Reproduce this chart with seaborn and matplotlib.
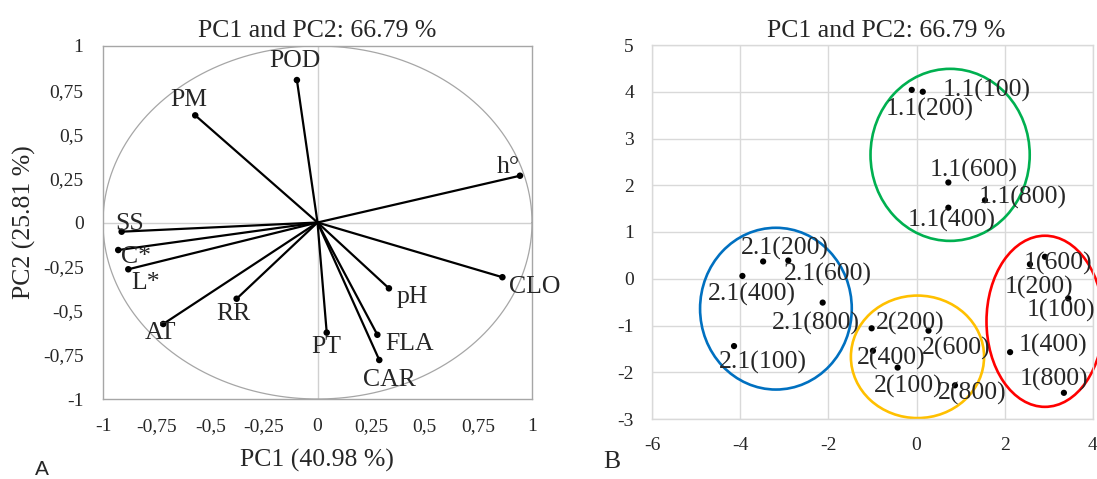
import matplotlib
matplotlib.use('Agg')
import matplotlib.pyplot as plt
from matplotlib.patches import Ellipse
import seaborn as sns
import numpy as np
import pandas as pd

# Loadings (panel A)
variables = ['POD', 'PM', 'h°', 'SS', 'C*', 'L*', 'AT', 'RR', 'PT', 'FLA', 'CAR', 'pH', 'CLO']
pc1_load = [-0.096, -0.57, 0.944, -0.913, -0.929, -0.882, -0.719, -0.377, 0.043, 0.279, 0.288, 0.333, 0.862]
pc2_load = [0.807, 0.607, 0.265, -0.052, -0.156, -0.265, -0.575, -0.432, -0.624, -0.636, -0.779, -0.373, -0.310]

# Scores (panel B)
samples = ['1.1(100)', '1.1(200)', '1.1(600)', '1.1(800)', '1.1(400)',
           '2.1(200)', '2.1(600)', '2.1(400)', '2.1(800)', '2.1(100)',
           '2(200)', '2(600)', '2(400)', '2(100)', '2(800)',
           '1(600)', '1(200)', '1(100)', '1(400)', '1(800)']
pc1_score = [0.14, -0.11, 0.72, 1.55, 0.72,
             -3.48, -2.91, -3.95, -2.13, -4.14,
             -1.02, 0.27, -0.99, -0.43, 0.87,
             2.91, 2.57, 3.44, 2.12, 3.34]
pc2_score = [4.00, 4.04, 2.06, 1.68, 1.52,
             0.37, 0.39, 0.06, -0.51, -1.44,
             -1.06, -1.11, -1.54, -1.90, -2.28,
             0.47, 0.31, -0.42, -1.57, -2.44]

# group ellipses (center x, center y, width, height)
ell_x = [0.76, -3.19, 0.02, 2.91]
ell_y = [2.65, -0.64, -1.67, -0.91]
ell_w = [3.61, 3.44, 3.02, 2.65]
ell_h = [3.68, 3.46, 2.62, 3.66]
ell_colors = ['#00b050', '#0070c0', '#ffc000', '#ff0000']

# label offsets in pixels (dx right, dy down)
load_off = {'POD': (-2, -19), 'PM': (-6, -15), 'h°': (-12, -9), 'SS': (8, -8),
            'C*': (18, 7), 'L*': (17, 14), 'AT': (-3, 9), 'RR': (-3, 15),
            'PT': (0, 14), 'FLA': (32, 9), 'CAR': (10, 20), 'pH': (23, 9), 'CLO': (32, 10)}
score_off = {'1.1(100)': (64, -1), '1.1(200)': (18, 20), '1.1(600)': (25, -12),
             '1.1(800)': (38, -3), '1.1(400)': (3, 13),
             '2.1(200)': (22, -13), '2.1(600)': (40, 14), '2.1(400)': (9, 19),
             '2.1(800)': (-7, 21), '2.1(100)': (29, 16),
             '2(200)': (39, -5), '2(600)': (28, 18), '2(400)': (18, 8),
             '2(100)': (11, 19), '2(800)': (17, 8),
             '1(600)': (13, 7), '1(200)': (9, 23), '1(100)': (-7, 12),
             '1(400)': (43, -7), '1(800)': (-10, -13)}

sns.set_theme(style='white')
plt.rcParams['font.family'] = ['Liberation Serif', 'DejaVu Serif']
plt.rcParams['axes.unicode_minus'] = False

load_df = pd.DataFrame({'var': variables, 'PC1': pc1_load, 'PC2': pc2_load})
score_df = pd.DataFrame({'sample': samples, 'PC1': pc1_score, 'PC2': pc2_score})

fig = plt.figure(figsize=(10.97, 4.79), dpi=100)
W, H = 1097, 479
axA = fig.add_axes([103 / W, 1 - 399 / H, (532 - 103) / W, (399 - 46) / H])
axB = fig.add_axes([652 / W, 1 - 419 / H, (1093 - 652) / W, (419 - 45) / H])

# ---- Panel A: loading plot
grey = '#a6a6a6'
theta = np.linspace(0, 2 * np.pi, 400)
axA.plot(np.cos(theta), np.sin(theta), color=grey, lw=0.9, zorder=1)
axA.axhline(0, color='#d0d0d0', lw=1, zorder=0)
axA.axvline(0, color='#d0d0d0', lw=1, zorder=0)
for _, r in load_df.iterrows():
    axA.plot([0, r['PC1']], [0, r['PC2']], color='black', lw=1.6, zorder=2)
sns.scatterplot(data=load_df, x='PC1', y='PC2', ax=axA, color='black', s=22,
                edgecolor='none', zorder=3, legend=False)
for _, r in load_df.iterrows():
    dx, dy = load_off[r['var']]
    axA.annotate(r['var'], (r['PC1'], r['PC2']), xytext=(dx, -dy),
                 textcoords='offset pixels', ha='center', va='center', fontsize=18.5)
axA.set_xlim(-1, 1)
axA.set_ylim(-1, 1)
ticksA = [-1, -0.75, -0.5, -0.25, 0, 0.25, 0.5, 0.75, 1]
labelsA = ['-1', '-0,75', '-0,5', '-0,25', '0', '0,25', '0,5', '0,75', '1']
axA.set_xticks(ticksA)
axA.set_xticklabels(labelsA)
axA.set_yticks(ticksA)
axA.set_yticklabels(labelsA)
axA.tick_params(length=0, pad=14, labelsize=14)
for s in axA.spines.values():
    s.set_color(grey)
    s.set_linewidth(1)
axA.set_xlabel('')
axA.set_ylabel('')
fig.text(317 / W, 1 - 467 / H, 'PC1 (40.98 %)', ha='center', va='baseline', fontsize=18.5)
fig.text(24 / W, 1 - 222 / H, 'PC2 (25.81 %)', ha='center', va='center',
         rotation=90, fontsize=18.5)
fig.text(317 / W, 1 - 37 / H, 'PC1 and PC2: 66.79 %', ha='center', va='baseline', fontsize=18.5)

# ---- Panel B: score plot
gridc = '#d9d9d9'
axB.grid(True, color=gridc, lw=1)
axB.set_axisbelow(True)
sns.scatterplot(data=score_df, x='PC1', y='PC2', ax=axB, color='black', s=20,
                edgecolor='none', zorder=3, legend=False)
for _, r in score_df.iterrows():
    dx, dy = score_off[r['sample']]
    axB.annotate(r['sample'], (r['PC1'], r['PC2']), xytext=(dx, -dy),
                 textcoords='offset pixels', ha='center', va='center', fontsize=18.5)
for cx, cy, w, h, c in zip(ell_x, ell_y, ell_w, ell_h, ell_colors):
    axB.add_patch(Ellipse((cx, cy), w, h, fill=False, edgecolor=c, lw=1.9,
                          clip_on=False, zorder=2))
axB.set_xlim(-6, 4)
axB.set_ylim(-3, 5)
axB.set_xticks(range(-6, 5, 2))
axB.set_yticks(range(-3, 6))
axB.tick_params(length=0, pad=13, labelsize=14)
for s in axB.spines.values():
    s.set_color(gridc)
    s.set_linewidth(1)
axB.set_xlabel('')
axB.set_ylabel('')
fig.text(886 / W, 1 - 37 / H, 'PC1 and PC2: 66.79 %', ha='center', va='baseline', fontsize=18.5)

fig.text(42 / W, 1 - 475 / H, 'A', ha='center', va='baseline', fontsize=15,
         family=['Liberation Sans', 'DejaVu Sans'])
fig.text(612 / W, 1 - 462 / H, 'B', ha='center', va='center', fontsize=18.5)

fig.savefig('out.png', dpi=100)
